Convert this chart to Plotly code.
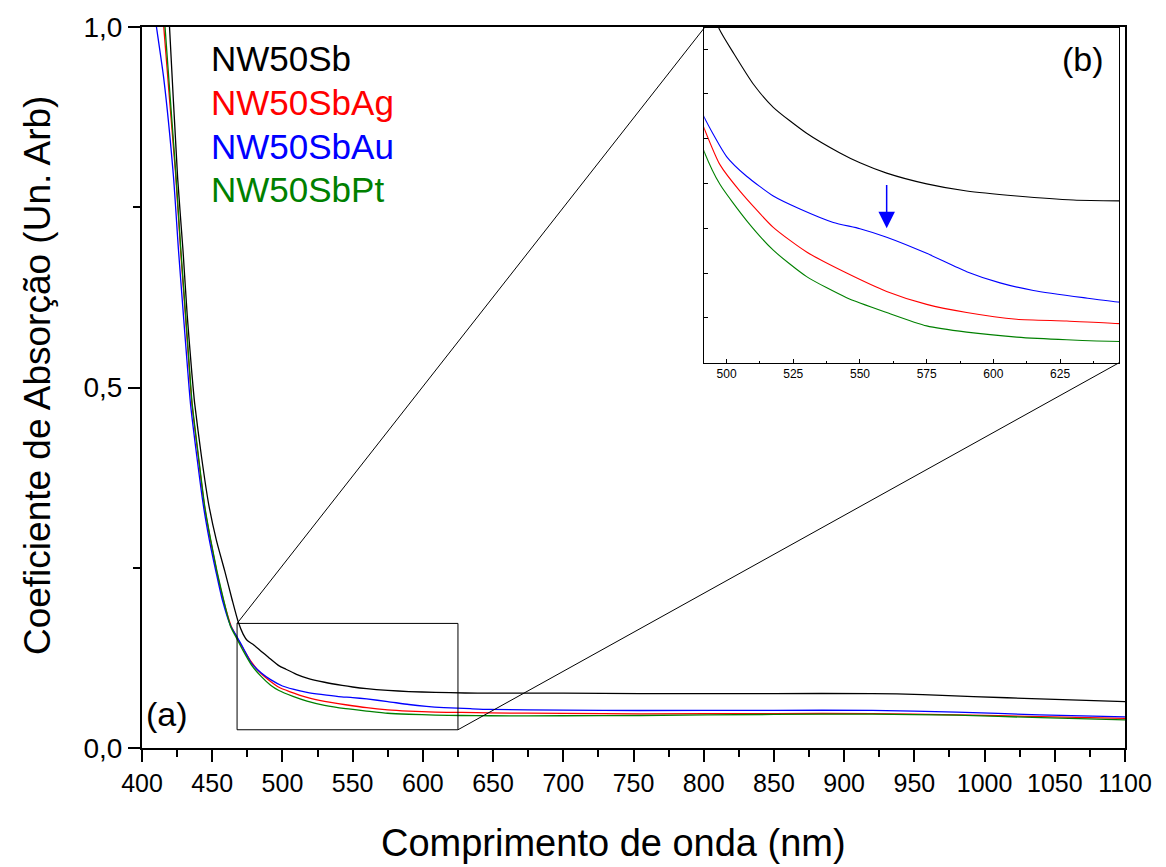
import plotly.graph_objects as go

# ---------------- data ----------------
names = ["NW50Sb", "NW50SbAg", "NW50SbAu", "NW50SbPt"]
colors = ["#000000", "#ff0000", "#0000ff", "#008000"]

wl_sb = [415, 419.6, 425.4, 429.2, 432.2, 435.5, 437.5, 442.3, 447.5, 453, 459, 464, 468.5, 472, 475,
         479.6, 485, 490, 497.4, 502.5, 510, 517.5, 530, 542.5, 550, 560, 575, 590, 608.75, 630, 647,
         700, 754.5, 850, 920, 956, 992, 1039, 1100]
ab_sb = [1.17, 1.0, 0.79, 0.69, 0.60, 0.52, 0.478, 0.405, 0.338, 0.288, 0.245, 0.207, 0.175, 0.158, 0.149,
         0.143, 0.134, 0.126, 0.1143, 0.1092, 0.1022, 0.0970, 0.0912, 0.0868, 0.0846, 0.0823, 0.0799, 0.0783,
         0.0772, 0.0763, 0.0761, 0.0760, 0.0755, 0.0755, 0.0755, 0.0741, 0.0713, 0.0682, 0.0644]

wl_ag = [412, 415.5, 423.8, 427.5, 430.9, 433.5, 435.5, 440, 444.5, 448.8, 453.2, 457.7, 463.3, 467.7,
         472, 478, 485, 491.6, 497.5, 505, 517.5, 530, 545, 560, 575, 590, 608.75, 627.5, 647.5,
         700, 754.5, 850, 920, 980, 1040, 1100]
ab_ag = [1.12, 1.0, 0.7995, 0.69, 0.60, 0.53, 0.478, 0.405, 0.335, 0.288, 0.245, 0.207, 0.170, 0.153,
         0.138, 0.119, 0.103, 0.0923, 0.0842, 0.0783, 0.0702, 0.0647, 0.0600, 0.0559, 0.0530, 0.0512, 0.0497,
         0.0493, 0.0487, 0.0480, 0.0474, 0.0478, 0.0478, 0.0460, 0.0435, 0.0410]

wl_au = [405, 410.3, 415.5, 422.3, 426, 429.5, 432.3, 434.5, 439, 443.8, 448, 452.6, 457, 463, 467.7,
         472, 478, 485, 491.6, 500, 507.5, 517.5, 527.5, 540, 550, 560, 575, 590, 602.5, 615, 633.75,
         647.5, 700, 754.5, 850, 920, 980, 1039, 1100]
ab_au = [1.07, 1.0, 0.9285, 0.795, 0.69, 0.60, 0.53, 0.478, 0.405, 0.335, 0.288, 0.245, 0.207, 0.170, 0.154,
         0.139, 0.1175, 0.104, 0.0948, 0.0860, 0.0816, 0.0772, 0.0743, 0.0713, 0.0699, 0.0680, 0.0644, 0.0603,
         0.0578, 0.0561, 0.0545, 0.0535, 0.0525, 0.0520, 0.0522, 0.0523, 0.0498, 0.0460, 0.0433]

wl_pt = [413, 416.4, 424, 427.7, 431.1, 433.7, 435.7, 440.2, 444.7, 449, 453.4, 457.9, 463, 467.7,
         472, 478, 485, 491.6, 497.5, 507.5, 517.5, 530, 545, 560, 575, 590, 608.75, 627.5, 647.5,
         700, 754.5, 850, 920, 980, 1040, 1100]
ab_pt = [1.12, 1.0, 0.7995, 0.69, 0.60, 0.53, 0.478, 0.405, 0.335, 0.288, 0.245, 0.207, 0.169, 0.151,
         0.135, 0.115, 0.099, 0.0871, 0.0798, 0.0717, 0.0651, 0.0592, 0.0545, 0.0512, 0.0482, 0.0468, 0.0457,
         0.0451, 0.0447, 0.0447, 0.0451, 0.0466, 0.0470, 0.0455, 0.0420, 0.0390]

x_ticks = list(range(400, 1101, 50))
y_ticks = [0.0, 0.5, 1.0]
y_tick_labels = ["0,0", "0,5", "1,0"]
inset_x_ticks = [500, 525, 550, 575, 600, 625]
inset_y_ticks = [0.04, 0.05, 0.06, 0.07, 0.08, 0.09, 0.10, 0.11]

# ranges / zoom box
main_x_range = [400, 1100]
main_y_range = [0.0, 1.0]
inset_x_range = [491.6, 647.2]
inset_y_range = [0.04, 0.1147]
zoom_box_x = [467.7, 625.0]
zoom_box_y = [0.0253, 0.1728]
inset_dom_x = [0.5719, 0.9942]
inset_dom_y = [0.5345, 0.9986]
arrow_x = 560
arrow_y = [0.080, 0.070]

series = [(wl_sb, ab_sb), (wl_ag, ab_ag), (wl_au, ab_au), (wl_pt, ab_pt)]

FONT = "Arial, Liberation Sans, sans-serif"

fig = go.Figure()
for (wl, ab), name, col in zip(series, names, colors):
    fig.add_trace(go.Scatter(x=wl, y=ab, mode="lines", name=name,
                             line=dict(color=col, width=1.3, shape="spline", smoothing=0.6),
                             xaxis="x", yaxis="y", showlegend=False))
for (wl, ab), name, col in zip(series, names, colors):
    fig.add_trace(go.Scatter(x=wl, y=ab, mode="lines", name=name,
                             line=dict(color=col, width=1.1, shape="spline", smoothing=0.6),
                             xaxis="x2", yaxis="y2", showlegend=False))

fig.update_layout(
    width=1166, height=867,
    margin=dict(l=142, r=41, t=25, b=119),
    paper_bgcolor="white", plot_bgcolor="white",
    font=dict(family=FONT, color="black"),
    xaxis=dict(range=main_x_range, tickvals=x_ticks, ticks="outside", ticklen=12, tickwidth=2,
               tickcolor="black", showline=True, linecolor="black", linewidth=2, mirror=True,
               showgrid=False, zeroline=False, tickfont=dict(size=25, family=FONT),
               minor=dict(dtick=25, tick0=400, ticks="outside", ticklen=7, tickwidth=2,
                          tickcolor="black", showgrid=False)),
    yaxis=dict(range=main_y_range, tickvals=y_ticks, ticktext=y_tick_labels, ticks="outside",
               ticklen=12, tickwidth=2, tickcolor="black", showline=True, linecolor="black",
               linewidth=2, mirror=True, showgrid=False, zeroline=False,
               tickfont=dict(size=28, family=FONT),
               minor=dict(dtick=0.25, tick0=0, ticks="outside", ticklen=7, tickwidth=2,
                          tickcolor="black", showgrid=False)),
    xaxis2=dict(domain=inset_dom_x, anchor="y2", range=inset_x_range, tickvals=inset_x_ticks,
                ticks="inside", ticklen=4, tickwidth=1, tickcolor="black", showline=True,
                linecolor="black", linewidth=1, mirror=True, showgrid=False, zeroline=False,
                tickfont=dict(size=12, family=FONT),
                minor=dict(dtick=12.5, tick0=500, ticks="inside", ticklen=2, tickwidth=1,
                           tickcolor="black", showgrid=False)),
    yaxis2=dict(domain=inset_dom_y, anchor="x2", range=inset_y_range, tickvals=inset_y_ticks,
                showticklabels=False, ticks="inside", ticklen=4, tickwidth=1, tickcolor="black",
                showline=True, linecolor="black", linewidth=1, mirror=True, showgrid=False,
                zeroline=False),
)

# zoom box in main plot
fig.add_shape(type="rect", xref="x", yref="y", x0=zoom_box_x[0], x1=zoom_box_x[1],
              y0=zoom_box_y[0], y1=zoom_box_y[1], line=dict(color="black", width=1))

# connector lines (inset corners expressed in main data coordinates)
def dom_to_x(d):
    return main_x_range[0] + d * (main_x_range[1] - main_x_range[0])

def dom_to_y(d):
    return main_y_range[0] + d * (main_y_range[1] - main_y_range[0])

fig.add_shape(type="line", xref="x", yref="y", x0=zoom_box_x[0], y0=zoom_box_y[1],
              x1=dom_to_x(inset_dom_x[0]), y1=dom_to_y(inset_dom_y[1]),
              line=dict(color="black", width=1))
fig.add_shape(type="line", xref="x", yref="y", x0=zoom_box_x[1], y0=zoom_box_y[0],
              x1=dom_to_x(inset_dom_x[1]), y1=dom_to_y(inset_dom_y[0]),
              line=dict(color="black", width=1))

# legend as coloured text
legend_y = [57, 101, 145, 188]
for name, col, yp in zip(names, colors, legend_y):
    fig.add_annotation(text=name, xref="paper", yref="paper", x=(209 - 142) / 983,
                       y=(748 - yp) / 723, xanchor="left", yanchor="middle", showarrow=False,
                       font=dict(size=35, color=col, family=FONT))

fig.add_annotation(text="(a)", xref="paper", yref="paper", x=(167 - 142) / 983, y=(748 - 714) / 723,
                   xanchor="center", yanchor="middle", showarrow=False, font=dict(size=34, family=FONT))
fig.add_annotation(text="(b)", xref="paper", yref="paper", x=(1083 - 142) / 983, y=(748 - 57) / 723,
                   xanchor="center", yanchor="middle", showarrow=False, font=dict(size=34, family=FONT))

# axis titles
fig.add_annotation(text="Comprimento de onda (nm)", xref="paper", yref="paper",
                   x=(613 - 142) / 983, y=(748 - 843) / 723, xanchor="center", yanchor="middle",
                   showarrow=False, font=dict(size=38, family=FONT))
fig.add_annotation(text="Coeficiente de Absorção (Un. Arb)", xref="paper", yref="paper",
                   x=(37 - 142) / 983, y=(748 - 375) / 723, xanchor="center", yanchor="middle",
                   textangle=-90, showarrow=False, font=dict(size=37, family=FONT))

# blue arrow in inset
fig.add_annotation(x=arrow_x, y=arrow_y[1], ax=arrow_x, ay=arrow_y[0], xref="x2", yref="y2",
                   axref="x2", ayref="y2", text="", showarrow=True, arrowhead=2, arrowsize=2.2,
                   arrowwidth=1.5, arrowcolor="#0000ff")

fig.write_html("out.html")
